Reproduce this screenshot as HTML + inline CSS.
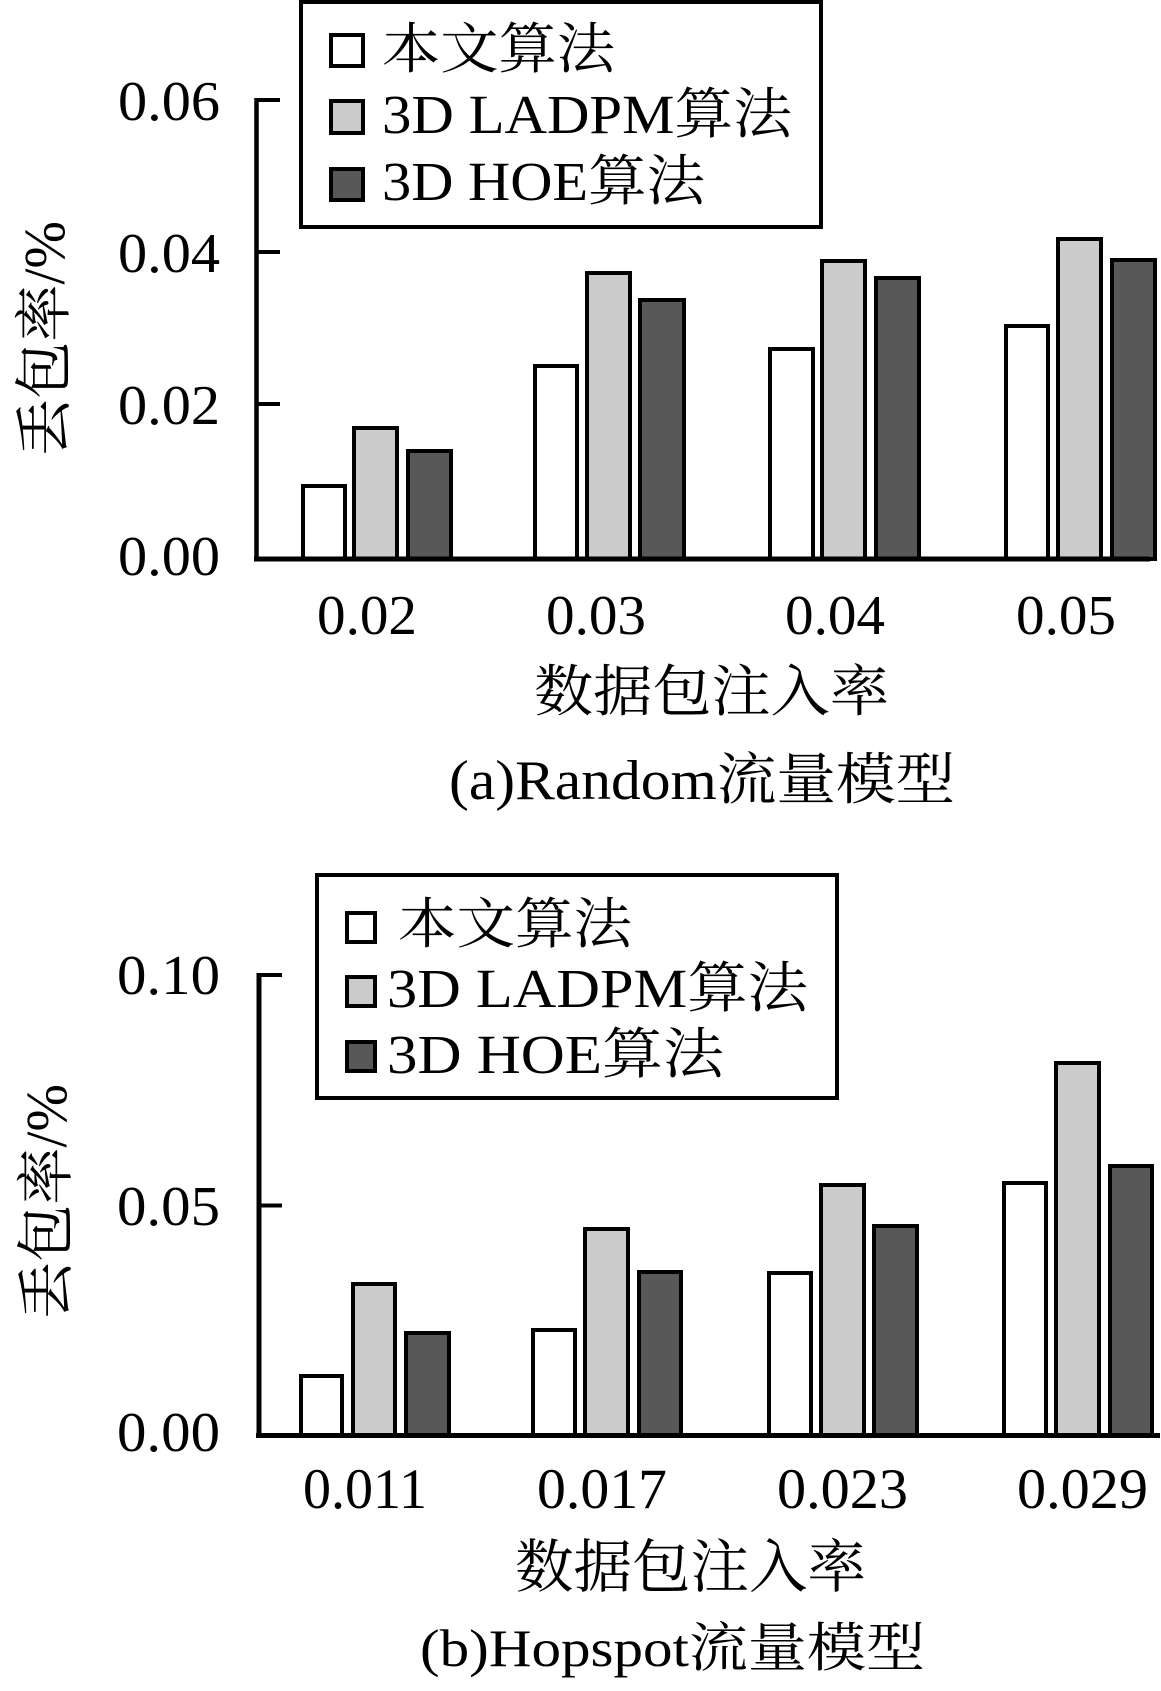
<!DOCTYPE html>
<html>
<head>
<meta charset="utf-8">
<style>
  html, body { margin: 0; padding: 0; background: #ffffff; }
  body { width: 1161px; height: 1691px; overflow: hidden; }
  svg { display: block; }
  text { font-family: "Liberation Serif", "Noto Serif CJK SC", serif; fill: #000; }
</style>
</head>
<body>
<svg width="1161" height="1691" viewBox="0 0 1161 1691" xmlns="http://www.w3.org/2000/svg">
  <rect x="0" y="0" width="1161" height="1691" fill="#ffffff"/>

  <!-- ================= TOP CHART ================= -->
  <!-- legend -->
  <rect x="301" y="2" width="520" height="225" fill="#fff" stroke="#000" stroke-width="4"/>
  <rect x="331" y="35" width="32" height="31" fill="#ffffff" stroke="#000" stroke-width="4"/>
  <rect x="331" y="101" width="32" height="32" fill="#cbcbcb" stroke="#000" stroke-width="4"/>
  <rect x="331" y="169" width="32" height="31" fill="#585858" stroke="#000" stroke-width="4"/>
  <text x="382" y="68" font-size="55" textLength="233" lengthAdjust="spacingAndGlyphs">本文算法</text>
  <text x="382" y="133" font-size="55" textLength="410" lengthAdjust="spacingAndGlyphs">3D LADPM算法</text>
  <text x="382" y="200" font-size="55" textLength="323" lengthAdjust="spacingAndGlyphs">3D HOE算法</text>

  <!-- bars -->
  <g stroke="#000" stroke-width="4">
    <rect x="303" y="486" width="42" height="73" fill="#ffffff"/>
    <rect x="354" y="428" width="43" height="131" fill="#cbcbcb"/>
    <rect x="408" y="451" width="43" height="108" fill="#585858"/>

    <rect x="535" y="366" width="42" height="193" fill="#ffffff"/>
    <rect x="587" y="273" width="43" height="286" fill="#cbcbcb"/>
    <rect x="640" y="300" width="44" height="259" fill="#585858"/>

    <rect x="770" y="349" width="43" height="210" fill="#ffffff"/>
    <rect x="822" y="261" width="43" height="298" fill="#cbcbcb"/>
    <rect x="876" y="278" width="43" height="281" fill="#585858"/>

    <rect x="1006" y="326" width="42" height="233" fill="#ffffff"/>
    <rect x="1058" y="239" width="43" height="320" fill="#cbcbcb"/>
    <rect x="1112" y="260" width="43" height="299" fill="#585858"/>
  </g>

  <!-- axes -->
  <line x1="256.5" y1="98" x2="256.5" y2="561" stroke="#000" stroke-width="4.5"/>
  <line x1="254" y1="559" x2="1150" y2="559" stroke="#000" stroke-width="5"/>
  <line x1="256" y1="100" x2="280" y2="100" stroke="#000" stroke-width="4"/>
  <line x1="256" y1="252" x2="280" y2="252" stroke="#000" stroke-width="4"/>
  <line x1="256" y1="404" x2="280" y2="404" stroke="#000" stroke-width="4"/>

  <!-- y tick labels -->
  <text x="118" y="120" font-size="56" textLength="102" lengthAdjust="spacingAndGlyphs">0.06</text>
  <text x="118" y="272" font-size="56" textLength="102" lengthAdjust="spacingAndGlyphs">0.04</text>
  <text x="118" y="424" font-size="56" textLength="102" lengthAdjust="spacingAndGlyphs">0.02</text>
  <text x="118" y="575" font-size="56" textLength="102" lengthAdjust="spacingAndGlyphs">0.00</text>

  <!-- y title -->
  <g transform="translate(42,339) rotate(-90)">
    <text x="-117" y="22" font-size="58" textLength="235" lengthAdjust="spacingAndGlyphs">丢包率/%</text>
  </g>

  <!-- x tick labels -->
  <text x="317" y="634" font-size="56" textLength="100" lengthAdjust="spacingAndGlyphs">0.02</text>
  <text x="546" y="634" font-size="56" textLength="100" lengthAdjust="spacingAndGlyphs">0.03</text>
  <text x="785" y="634" font-size="56" textLength="100" lengthAdjust="spacingAndGlyphs">0.04</text>
  <text x="1016" y="634" font-size="56" textLength="100" lengthAdjust="spacingAndGlyphs">0.05</text>

  <!-- x title -->
  <text x="534" y="711" font-size="56" textLength="355" lengthAdjust="spacingAndGlyphs">数据包注入率</text>
  <!-- caption -->
  <text x="449" y="799" font-size="56" textLength="506" lengthAdjust="spacingAndGlyphs">(a)Random流量模型</text>

  <!-- ================= BOTTOM CHART ================= -->
  <!-- legend -->
  <rect x="317" y="875" width="520" height="223" fill="#fff" stroke="#000" stroke-width="4"/>
  <rect x="347" y="913" width="28" height="29" fill="#ffffff" stroke="#000" stroke-width="4"/>
  <rect x="347" y="977" width="28" height="29" fill="#cbcbcb" stroke="#000" stroke-width="4"/>
  <rect x="347" y="1042" width="28" height="29" fill="#585858" stroke="#000" stroke-width="4"/>
  <text x="398" y="943" font-size="55" textLength="234" lengthAdjust="spacingAndGlyphs">本文算法</text>
  <text x="387" y="1007" font-size="55" textLength="421" lengthAdjust="spacingAndGlyphs">3D LADPM算法</text>
  <text x="387" y="1073" font-size="55" textLength="337" lengthAdjust="spacingAndGlyphs">3D HOE算法</text>

  <!-- bars -->
  <g stroke="#000" stroke-width="4">
    <rect x="301" y="1376" width="41" height="60" fill="#ffffff"/>
    <rect x="353" y="1284" width="42" height="152" fill="#cbcbcb"/>
    <rect x="406" y="1333" width="43" height="103" fill="#585858"/>

    <rect x="533" y="1330" width="42" height="106" fill="#ffffff"/>
    <rect x="585" y="1229" width="43" height="207" fill="#cbcbcb"/>
    <rect x="639" y="1272" width="42" height="164" fill="#585858"/>

    <rect x="769" y="1273" width="42" height="163" fill="#ffffff"/>
    <rect x="821" y="1185" width="43" height="251" fill="#cbcbcb"/>
    <rect x="874" y="1226" width="43" height="210" fill="#585858"/>

    <rect x="1004" y="1183" width="42" height="253" fill="#ffffff"/>
    <rect x="1056" y="1063" width="43" height="373" fill="#cbcbcb"/>
    <rect x="1110" y="1166" width="42" height="270" fill="#585858"/>
  </g>

  <!-- axes -->
  <line x1="259" y1="973" x2="259" y2="1438" stroke="#000" stroke-width="5"/>
  <line x1="256" y1="1435.5" x2="1160" y2="1435.5" stroke="#000" stroke-width="5"/>
  <line x1="259" y1="975" x2="282" y2="975" stroke="#000" stroke-width="4"/>
  <line x1="259" y1="1205.5" x2="282" y2="1205.5" stroke="#000" stroke-width="4"/>

  <!-- y tick labels -->
  <text x="117" y="994" font-size="56" textLength="103" lengthAdjust="spacingAndGlyphs">0.10</text>
  <text x="117" y="1225" font-size="56" textLength="103" lengthAdjust="spacingAndGlyphs">0.05</text>
  <text x="117" y="1451" font-size="56" textLength="103" lengthAdjust="spacingAndGlyphs">0.00</text>

  <!-- y title -->
  <g transform="translate(44,1202) rotate(-90)">
    <text x="-117" y="22" font-size="58" textLength="235" lengthAdjust="spacingAndGlyphs">丢包率/%</text>
  </g>

  <!-- x tick labels -->
  <text x="303" y="1508" font-size="57" textLength="124" lengthAdjust="spacingAndGlyphs">0.011</text>
  <text x="537" y="1508" font-size="57" textLength="130" lengthAdjust="spacingAndGlyphs">0.017</text>
  <text x="777" y="1508" font-size="57" textLength="131" lengthAdjust="spacingAndGlyphs">0.023</text>
  <text x="1017" y="1508" font-size="57" textLength="131" lengthAdjust="spacingAndGlyphs">0.029</text>

  <!-- x title -->
  <text x="515" y="1587" font-size="58" textLength="351" lengthAdjust="spacingAndGlyphs">数据包注入率</text>
  <!-- caption -->
  <text x="420" y="1666" font-size="53" textLength="505" lengthAdjust="spacingAndGlyphs">(b)Hopspot流量模型</text>
</svg>
</body>
</html>
